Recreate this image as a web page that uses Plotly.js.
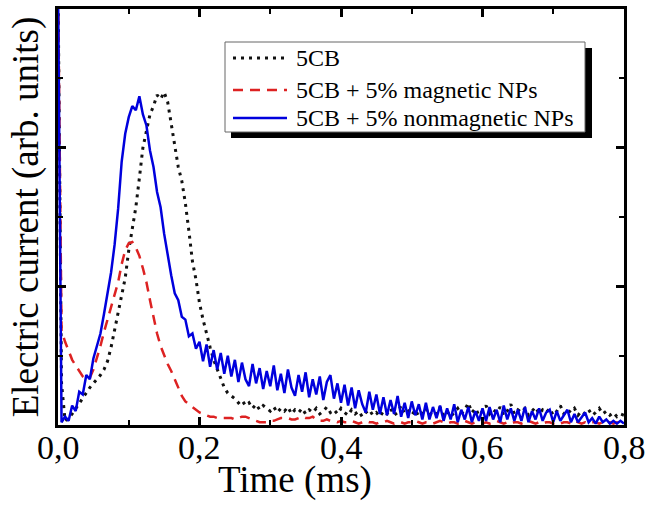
<!DOCTYPE html>
<html>
<head>
<meta charset="utf-8">
<script src="https://cdn.plot.ly/plotly-3.0.1.min.js"></script>
<style>html,body{margin:0;padding:0;background:#fff;}#chart{width:648px;height:508px;}</style>
</head>
<body>
<div id="chart"></div>
<script>
// Time axis (ms)
const time = [
0,0.005,0.01,0.015,0.02,0.025,0.03,0.035,0.04,0.045,
0.05,0.055,0.06,0.065,0.07,0.075,0.08,0.085,0.09,0.095,
0.1,0.105,0.11,0.115,0.12,0.125,0.13,0.135,0.14,0.145,
0.15,0.155,0.16,0.165,0.17,0.175,0.18,0.185,0.19,0.195,
0.2,0.205,0.21,0.215,0.22,0.225,0.23,0.235,0.24,0.245,
0.25,0.255,0.26,0.265,0.27,0.275,0.28,0.285,0.29,0.295,
0.3,0.305,0.31,0.315,0.32,0.325,0.33,0.335,0.34,0.345,
0.35,0.355,0.36,0.365,0.37,0.375,0.38,0.385,0.39,0.395,
0.4,0.405,0.41,0.415,0.42,0.425,0.43,0.435,0.44,0.445,
0.45,0.455,0.46,0.465,0.47,0.475,0.48,0.485,0.49,0.495,
0.5,0.505,0.51,0.515,0.52,0.525,0.53,0.535,0.54,0.545,
0.55,0.555,0.56,0.565,0.57,0.575,0.58,0.585,0.59,0.595,
0.6,0.605,0.61,0.615,0.62,0.625,0.63,0.635,0.64,0.645,
0.65,0.655,0.66,0.665,0.67,0.675,0.68,0.685,0.69,0.695,
0.7,0.705,0.71,0.715,0.72,0.725,0.73,0.735,0.74,0.745,
0.75,0.755,0.76,0.765,0.77,0.775,0.78,0.785,0.79,0.795,
0.8];

// 5CB (black dotted)
const pure5CB = [
3.2,0.30,0.03,0.05,0.08,0.12,0.16,0.20,0.24,0.27,
0.30,0.33,0.36,0.40,0.46,0.56,0.68,0.82,0.92,1.06,
1.26,1.42,1.57,1.78,2.00,2.12,2.24,2.30,2.38,2.35,
2.40,2.33,2.18,2.00,1.86,1.76,1.60,1.40,1.18,1.05,
0.88,0.76,0.65,0.56,0.47,0.40,0.33,0.27,0.23,0.21,
0.19,0.16,0.18,0.14,0.16,0.12,0.15,0.11,0.14,0.12,
0.10,0.13,0.09,0.12,0.10,0.13,0.08,0.11,0.09,0.12,
0.08,0.11,0.09,0.12,0.08,0.10,0.13,0.09,0.11,0.08,
0.12,0.09,0.07,0.11,0.08,0.10,0.06,0.09,0.11,0.07,
0.09,0.06,0.10,0.08,0.12,0.07,0.09,0.14,0.08,0.10,
0.07,0.11,0.06,0.09,0.12,0.07,0.10,0.08,0.13,0.07,
0.10,0.06,0.09,0.12,0.08,0.11,0.16,0.09,0.12,0.07,
0.10,0.14,0.08,0.11,0.09,0.13,0.07,0.10,0.15,0.08,
0.11,0.09,0.12,0.07,0.10,0.13,0.08,0.11,0.09,0.12,
0.07,0.10,0.14,0.08,0.11,0.09,0.12,0.07,0.10,0.08,
0.11,0.07,0.09,0.12,0.08,0.10,0.07,0.09,0.06,0.08,
0.07];

// 5CB + 5% magnetic NPs (red dashed)
const magneticNPs = [
3.2,0.68,0.60,0.53,0.47,0.43,0.39,0.35,0.33,0.34,
0.40,0.48,0.57,0.67,0.76,0.85,0.93,1.03,1.16,1.26,
1.31,1.32,1.28,1.22,1.13,1.03,0.90,0.77,0.66,0.57,
0.50,0.44,0.39,0.33,0.27,0.21,0.17,0.15,0.13,0.11,
0.09,0.08,0.07,0.06,0.06,0.05,0.05,0.05,0.05,0.05,
0.04,0.05,0.06,0.06,0.05,0.04,0.03,0.02,0.02,0.02,
0.03,0.03,0.04,0.05,0.05,0.05,0.04,0.04,0.05,0.06,
0.05,0.05,0.06,0.04,0.03,0.03,0.04,0.03,0.03,0.02,
0.03,0.02,0.02,0.03,0.02,0.01,0.02,0.03,0.02,0.02,
0.01,0.02,0.02,0.03,0.02,0.01,0.02,0.02,0.01,0.02,
0.02,0.03,0.02,0.01,0.02,0.02,0.01,0.02,0.03,0.02,
0.01,0.02,0.02,0.01,0.02,0.03,0.02,0.01,0.02,0.02,
0.01,0.02,0.01,0.02,0.03,0.02,0.01,0.02,0.01,0.02,
0.02,0.01,0.02,0.03,0.02,0.01,0.02,0.01,0.02,0.02,
0.01,0.02,0.01,0.02,0.02,0.01,0.03,0.02,0.01,0.02,
0.01,0.02,0.02,0.01,0.02,0.01,0.02,0.01,0.02,0.01,
0.01];

// 5CB + 5% nonmagnetic NPs (blue solid)
const nonmagneticNPs = [
3.2,0.02,0.06,0.03,0.14,0.10,0.24,0.22,0.36,0.33,
0.48,0.58,0.66,0.80,0.94,1.10,1.30,1.56,1.90,2.10,
2.22,2.30,2.27,2.37,2.24,2.16,1.98,1.86,1.68,1.57,
1.38,1.22,1.08,0.95,0.90,0.78,0.76,0.64,0.66,0.55,
0.60,0.46,0.58,0.42,0.54,0.40,0.52,0.37,0.50,0.35,
0.47,0.31,0.45,0.33,0.28,0.44,0.30,0.41,0.26,0.39,
0.28,0.43,0.25,0.37,0.23,0.40,0.27,0.21,0.36,0.24,
0.38,0.20,0.33,0.22,0.35,0.18,0.31,0.36,0.19,0.30,
0.16,0.29,0.14,0.27,0.12,0.25,0.15,0.09,0.24,0.11,
0.22,0.08,0.20,0.07,0.18,0.08,0.21,0.06,0.16,0.05,
0.17,0.07,0.15,0.04,0.16,0.04,0.13,0.05,0.14,0.03,
0.12,0.04,0.15,0.02,0.11,0.04,0.13,0.02,0.10,0.03,
0.12,0.03,0.13,0.04,0.11,0.02,0.14,0.04,0.12,0.03,
0.11,0.03,0.13,0.02,0.10,0.04,0.12,0.03,0.09,0.11,
0.02,0.10,0.03,0.07,0.11,0.02,0.08,0.02,0.06,0.09,
0.02,0.05,0.01,0.06,0.02,0.04,0.01,0.03,0.01,0.03,
0.01];

// x-axis tick values and their labels (comma decimal separator)
const tickVals = [0, 0.2, 0.4, 0.6, 0.8];
const tickText = ['0,0', '0,2', '0,4', '0,6', '0,8'];

const seriesNames = ['5CB', '5CB + 5% magnetic NPs', '5CB + 5% nonmagnetic NPs'];
const xTitle = 'Time (ms)';
const yTitle = 'Electric current (arb. units)';

const serif = 'Liberation Serif, Times New Roman, serif';
const colors = ['#111111', '#dd2222', '#0000dd'];
const dashes = ['3px,5px', '10px,7px', 'solid'];
const widths = [3, 2.5, 2.5];

const traces = seriesNames.map(function (nm, i) {
  return {x: time, y: [pure5CB, magneticNPs, nonmagneticNPs][i], name: nm,
    type: 'scatter', mode: 'lines', showlegend: false,
    line: {color: colors[i], width: widths[i], dash: dashes[i]}};
});

// plot-area geometry (pixels) used to place the hand-drawn legend box and texts
const M = {l: 58, r: 24, t: 9, b: 83};
const W = 648, H = 508;
const pw = W - M.l - M.r, ph = H - M.t - M.b;
const px = function (v) { return (v - M.l) / pw; };
const py = function (v) { return 1 - (v - M.t) / ph; };

const shapes = [
  // shadow
  {type: 'rect', xref: 'paper', yref: 'paper', layer: 'above',
   x0: px(231), x1: px(592), y0: py(138), y1: py(48), fillcolor: 'black', line: {width: 0}},
  // legend box
  {type: 'rect', xref: 'paper', yref: 'paper', layer: 'above',
   x0: px(225), x1: px(585), y0: py(132), y1: py(42), fillcolor: 'white', line: {color: '#666', width: 1}}
];
const rowY = [58, 90, 118];
const annotations = [];
seriesNames.forEach(function (nm, i) {
  shapes.push({type: 'line', xref: 'paper', yref: 'paper', layer: 'above',
    x0: px(233), x1: px(287), y0: py(rowY[i]), y1: py(rowY[i]),
    line: {color: colors[i], width: widths[i], dash: dashes[i]}});
  annotations.push({xref: 'paper', yref: 'paper', x: px(294), y: py(rowY[i]),
    xanchor: 'left', yanchor: 'middle', showarrow: false, text: nm,
    font: {family: serif, size: 24, color: 'black'}});
});
tickVals.forEach(function (v, i) {
  annotations.push({xref: 'x', yref: 'paper', x: v, y: py(447),
    xanchor: 'center', yanchor: 'middle', showarrow: false, text: tickText[i],
    font: {family: serif, size: 34, color: 'black'}});
});
annotations.push({xref: 'paper', yref: 'paper', x: px(295), y: py(480),
  xanchor: 'center', yanchor: 'middle', showarrow: false, text: xTitle,
  font: {family: serif, size: 37, color: 'black'}});

const layout = {
  width: W, height: H,
  margin: M,
  paper_bgcolor: 'white', plot_bgcolor: 'white',
  font: {family: serif, color: 'black'},
  showlegend: false,
  xaxis: {range: [0, 0.8], tickmode: 'array', tickvals: tickVals, ticktext: tickText,
    showticklabels: false,
    ticks: 'inside', ticklen: 8, tickwidth: 3, tickcolor: 'black',
    showline: true, linewidth: 3, linecolor: 'black', mirror: 'ticks',
    showgrid: false, zeroline: false,
    minor: {dtick: 0.1, ticks: 'inside', ticklen: 5, tickwidth: 2, tickcolor: 'black', showgrid: false}},
  yaxis: {range: [0, 3], tick0: 0, dtick: 1,
    ticks: 'inside', ticklen: 8, tickwidth: 3, tickcolor: 'black',
    showticklabels: false,
    showline: true, linewidth: 3, linecolor: 'black', mirror: 'ticks',
    showgrid: false, zeroline: false,
    minor: {dtick: 0.5, ticks: 'inside', ticklen: 5, tickwidth: 2, tickcolor: 'black', showgrid: false},
    title: {text: yTitle, font: {family: serif, size: 37, color: 'black'}, standoff: 6}},
  shapes: shapes,
  annotations: annotations
};

Plotly.newPlot('chart', traces, layout, {displayModeBar: false, staticPlot: true});
</script>
</body>
</html>
